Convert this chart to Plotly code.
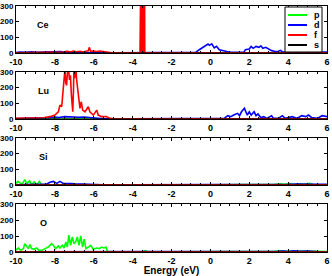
import plotly.graph_objects as go

# ---------------- data ----------------
energy_ticks = [-10, -8, -6, -4, -2, 0, 2, 4, 6]
energy_tick_labels = ["-10", "-8", "-6", "-4", "-2", "0", "2", "4", "6"]
dos_ticks = [0, 100, 200, 300]
dos_tick_labels = ["0", "100", "200", "300"]

elements = ["Ce", "Lu", "Si", "O"]
orbitals = ["p", "d", "f", "s"]
orbital_colors = {"p": "#00ff00", "d": "#0000ff", "f": "#ff0000", "s": "#000000"}

# Ce
ce_p_e = [-10, 6]
ce_p_y = [0.5, 0.5]
ce_d_e = [-10, -9.8, -9.5, -9.2, -9.0, -8.7, -8.4, -8.1, -7.9, -7.7, -7.5, -7.0, -6.0, -5.0, -4.0,
          -2.0, -1.0, -0.75, -0.57, -0.45, -0.3, -0.12, -0.05, 0.07, 0.2, 0.32, 0.46, 0.63, 0.8,
          0.95, 1.2, 1.5, 1.73, 1.8, 2.0, 2.1, 2.2, 2.35, 2.5, 2.6, 2.7, 2.85, 3.0, 3.15, 3.3,
          3.45, 3.6, 3.7, 4.0, 4.5, 5.0, 5.5, 6.0]
ce_d_y = [3, 6, 4, 8, 5, 7, 6, 9, 8, 10, 4, 2, 2, 1, 1,
          1, 2, 4, 21, 30, 42, 57, 49, 59, 32, 42, 21, 17, 11,
          6, 5, 5, 6, 21, 25, 42, 30, 42, 36, 46, 30, 36, 25, 15, 11,
          8, 17, 8, 5, 5, 6, 5, 6]
ce_f_e = [-10, -7.6, -7.56, -7.4, -7.2, -7.06, -6.9, -6.71, -6.54, -6.4, -6.28, -6.23, -6.16,
          -6.02, -5.85, -5.68, -5.5, -5.34, -5.2, -5.08, -4.0, -3.62,
          -3.585, -3.575, -3.565, -3.555, -3.545, -3.535, -3.525, -3.515, -3.505, -3.495,
          -3.485, -3.475, -3.465, -3.455, -3.445, -3.435, -3.425, -3.415, -3.405, -3.395,
          -3.385, -3.375, -3.34, -3.0, 6]
ce_f_y = [1, 2, 6, 10, 7, 13, 8, 11, 6, 11, 14, 36, 10,
          13, 10, 13, 10, 8, 5, 1, 1, 2,
          420, 5, 600, 8, 800, 10, 900, 12, 950, 10,
          850, 8, 700, 10, 650, 8, 600, 6, 500, 8,
          420, 4, 2, 1, 1]
ce_s_e = [-10, 6]
ce_s_y = [0, 0]

# Lu
lu_p_e = [-10, 6]
lu_p_y = [0, 0]
lu_d_e = [-10, -9, -8.5, -8.3, -8.0, -7.8, -7.5, -7.2, -7.0, -6.8, -6.5, -6.2, -6.0, -5.8, -5.5,
          -4, -2, 0, 0.5, 0.72, 0.9, 1.05, 1.2, 1.4, 1.5, 1.6, 1.75, 1.8, 1.9, 2.0, 2.1, 2.25,
          2.35, 2.45, 2.6, 2.75, 2.9, 3.15, 3.25, 3.5, 3.7, 3.85, 4.2, 4.45, 4.7, 4.9, 5.05,
          5.2, 5.5, 5.75, 6.0]
lu_d_y = [3, 4, 5, 8, 12, 10, 15, 12, 14, 11, 13, 10, 8, 4, 2,
          1, 1, 2, 3, 5, 21, 15, 25, 36, 21, 46, 68, 51, 25, 46, 25, 46,
          21, 32, 8, 15, 4, 21, 4, 4, 21, 4, 15, 4, 21, 15, 25,
          10, 4, 21, 15]
lu_f_e = [-10, -9.5, -9.0, -8.59, -8.25, -8.0, -7.82, -7.74, -7.65, -7.57, -7.52, -7.48, -7.44,
          -7.4, -7.35, -7.3, -7.25, -7.2, -7.15, -7.08, -7.04, -7.02, -6.98, -6.95, -6.92,
          -6.88, -6.85, -6.78, -6.71, -6.64, -6.57, -6.45, -6.28, -6.2, -6.02, -5.85, -5.77,
          -5.6, -5.34, -5.17, -5.0, 6]
lu_f_y = [5, 6, 5, 8, 15, 25, 46, 89, 78, 173, 240, 320, 230,
          215, 300, 330, 250, 279, 152, 46, 200, 320, 260, 340, 330,
          250, 215, 173, 68, 110, 57, 46, 78, 46, 25, 57, 25,
          15, 15, 4, 2, 2]
lu_s_e = [-10, 6]
lu_s_y = [0, 0]

# Si
si_p_e = [-10, -9.9, -9.82, -9.73, -9.64, -9.55, -9.48, -9.43, -9.36, -9.3, -9.24, -9.17, -9.1,
          -9.06, -9.0, -8.94, -8.87, -8.8, -8.68, -8.5, -8.0, -7.0, -6.0, -5.5, -5.0, -4, 0, 2,
          3.0, 3.3, 3.6, 3.8, 4.1, 4.3, 4.6, 4.8, 5.1, 5.3, 5.6, 6.0]
si_p_y = [10, 23, 15, 7, 14, 34, 18, 10, 20, 27, 12, 5, 15,
          20, 12, 6, 10, 23, 2, 3, 2, 2, 3, 2, 1, 1, 1, 1,
          2, 4, 8, 4, 9, 3, 8, 4, 11, 3, 2, 2]
si_d_e = [-10, -9, -8.7, -8.42, -8.25, -8.08, -7.9, -7.74, -7.57, -7.4, -7.2, -6.97, -6.7, -6.54,
          -6.2, -5.85, -5.5, -4, -2, 0, 2, 3.0, 3.5, 4.0, 4.5, 5.0, 5.2, 5.5, 6.0]
si_d_y = [2, 2, 3, 6, 17, 23, 10, 23, 10, 8, 10, 8, 6, 5,
          4, 3, 2, 1, 1, 1, 2, 3, 5, 4, 6, 7, 9, 5, 5]
si_f_e = [-10, -6.5, -6.0, -5.7, -5.4, -5.0, 6]
si_f_y = [0, 1, 3, 2, 3, 1, 1]
si_s_e = [-10, 6]
si_s_y = [0, 0]

# O
o_p_e = [-10, -9.97, -9.88, -9.76, -9.62, -9.55, -9.46, -9.37, -9.28, -9.2, -9.08, -8.94, -8.82,
         -8.68, -8.51, -8.34, -8.17, -8.08, -7.96, -7.82, -7.74, -7.62, -7.53, -7.43, -7.36,
         -7.28, -7.19, -7.1, -7.02, -6.93, -6.85, -6.76, -6.67, -6.57, -6.49, -6.4, -6.28,
         -6.15, -6.03, -5.86, -5.72, -5.6, -5.48, -5.37, -5.3, -5.0, -4.0, -3.45, -3.35, -3.25,
         -2.0, 0, 2.0, 2.8, 3.0, 3.3, 3.6, 3.9, 4.2, 4.5, 4.8, 5.2, 5.6, 6.0]
o_p_y = [10, 17, 25, 10, 21, 52, 38, 21, 46, 21, 17, 25, 10,
         10, 21, 31, 52, 42, 21, 38, 25, 42, 25, 63, 31,
         105, 42, 94, 52, 63, 94, 42, 100, 31, 80, 21, 31,
         42, 17, 25, 21, 31, 25, 31, 4, 2, 2, 3, 8, 3,
         2, 2, 2, 4, 6, 4, 8, 5, 7, 4, 6, 4, 3, 3]
o_d_e = [-10, -8, -6, -4, 0, 2, 3.0, 3.5, 3.8, 4.0, 4.3, 4.6, 5.0, 5.3, 5.6, 6.0]
o_d_y = [1, 1, 1, 1, 1, 1, 2, 4, 6, 3, 7, 4, 6, 3, 2, 2]
o_f_e = [-10, 6]
o_f_y = [0.5, 0.5]
o_s_e = [-10, 6]
o_s_y = [0, 0]

series = {
    "Ce": {"p": (ce_p_e, ce_p_y), "d": (ce_d_e, ce_d_y), "f": (ce_f_e, ce_f_y), "s": (ce_s_e, ce_s_y)},
    "Lu": {"p": (lu_p_e, lu_p_y), "d": (lu_d_e, lu_d_y), "f": (lu_f_e, lu_f_y), "s": (lu_s_e, lu_s_y)},
    "Si": {"p": (si_p_e, si_p_y), "d": (si_d_e, si_d_y), "f": (si_f_e, si_f_y), "s": (si_s_e, si_s_y)},
    "O": {"p": (o_p_e, o_p_y), "d": (o_d_e, o_d_y), "f": (o_f_e, o_f_y), "s": (o_s_e, o_s_y)},
}

# ---------------- figure ----------------
W, H = 332, 276
ML, MR, MT, MB = 16, 5, 6, 24
plot_h = H - MT - MB
# panel pixel extents (top, bottom) measured from the top of the image
panel_px = {"Ce": (6, 53), "Lu": (72, 119), "Si": (138, 185), "O": (204, 252)}

FONT = "Liberation Sans, Arial, sans-serif"
fig = go.Figure()
layout = dict(
    width=W, height=H,
    margin=dict(l=ML, r=MR, t=MT, b=MB, autoexpand=False),
    paper_bgcolor="white", plot_bgcolor="white",
    showlegend=False,
    font=dict(family=FONT, size=9, color="black"),
)
annotations = []
shapes = []

for i, el in enumerate(elements, start=1):
    top, bot = panel_px[el]
    y0 = (H - MB - bot) / plot_h
    y1 = (H - MB - top) / plot_h
    xa = "x" if i == 1 else f"x{i}"
    ya = "y" if i == 1 else f"y{i}"
    for orb in orbitals:
        e, v = series[el][orb]
        fig.add_trace(go.Scatter(
            x=e, y=v, mode="lines", name=orb, xaxis=xa, yaxis=ya,
            line=dict(color=orbital_colors[orb], width=1 if orb == "s" else 1.6),
            showlegend=False, hoverinfo="skip",
        ))
    layout["xaxis" if i == 1 else f"xaxis{i}"] = dict(
        domain=[0, 1], anchor=ya, range=[-10, 6], automargin=False,
        tickmode="array", tickvals=energy_ticks, ticktext=energy_tick_labels,
        ticks="inside", ticklen=3, tickcolor="black",
        minor=dict(dtick=0.5, tick0=-10, ticks="inside", ticklen=2, tickcolor="black"),
        showline=True, linecolor="black", linewidth=1, mirror="ticks",
        showgrid=False, zeroline=False,
        tickfont=dict(family=FONT, size=9, weight="bold", color="black"),
    )
    layout["yaxis" if i == 1 else f"yaxis{i}"] = dict(
        domain=[y0, y1], anchor=xa, range=[0, 300], automargin=False,
        tickmode="array", tickvals=dos_ticks, ticktext=dos_tick_labels,
        ticks="inside", ticklen=3, tickcolor="black",
        showline=True, linecolor="black", linewidth=1, mirror="ticks",
        showgrid=False, zeroline=False,
        tickfont=dict(family=FONT, size=8, weight="bold", color="black"),
    )
    annotations.append(dict(
        x=-8.6, y=180, xref=xa, yref=ya, text=el, showarrow=False,
        font=dict(family=FONT, size=9, weight="bold", color="black"),
        xanchor="center", yanchor="middle",
    ))

layout["xaxis4"]["title"] = dict(
    text="Energy (eV)", standoff=2,
    font=dict(family=FONT, size=10, weight="bold", color="black"),
)

# legend box in the top panel (drawn by hand: plotly's legend rows are too tall here)
def px_x(px):
    return (px - ML) / (W - ML - MR)

def px_y(py):
    return (H - MB - py) / plot_h

shapes.append(dict(type="rect", xref="paper", yref="paper",
                   x0=px_x(285), x1=px_x(322), y0=px_y(52), y1=px_y(7),
                   line=dict(color="black", width=1), fillcolor="white", layer="above"))
for k, orb in enumerate(orbitals):
    yy = px_y(15 + 10 * k)
    shapes.append(dict(type="line", xref="paper", yref="paper",
                       x0=px_x(288), x1=px_x(307), y0=yy, y1=yy,
                       line=dict(color=orbital_colors[orb], width=2), layer="above"))
    annotations.append(dict(x=px_x(312), y=yy, xref="paper", yref="paper", text=orb,
                            showarrow=False, xanchor="left", yanchor="middle",
                            font=dict(family=FONT, size=9, weight="bold", color="black")))

layout["annotations"] = annotations
layout["shapes"] = shapes
fig.update_layout(**layout)
fig.write_html("out.html", config={"displayModeBar": False},
               post_script="document.body.style.margin='0';")
